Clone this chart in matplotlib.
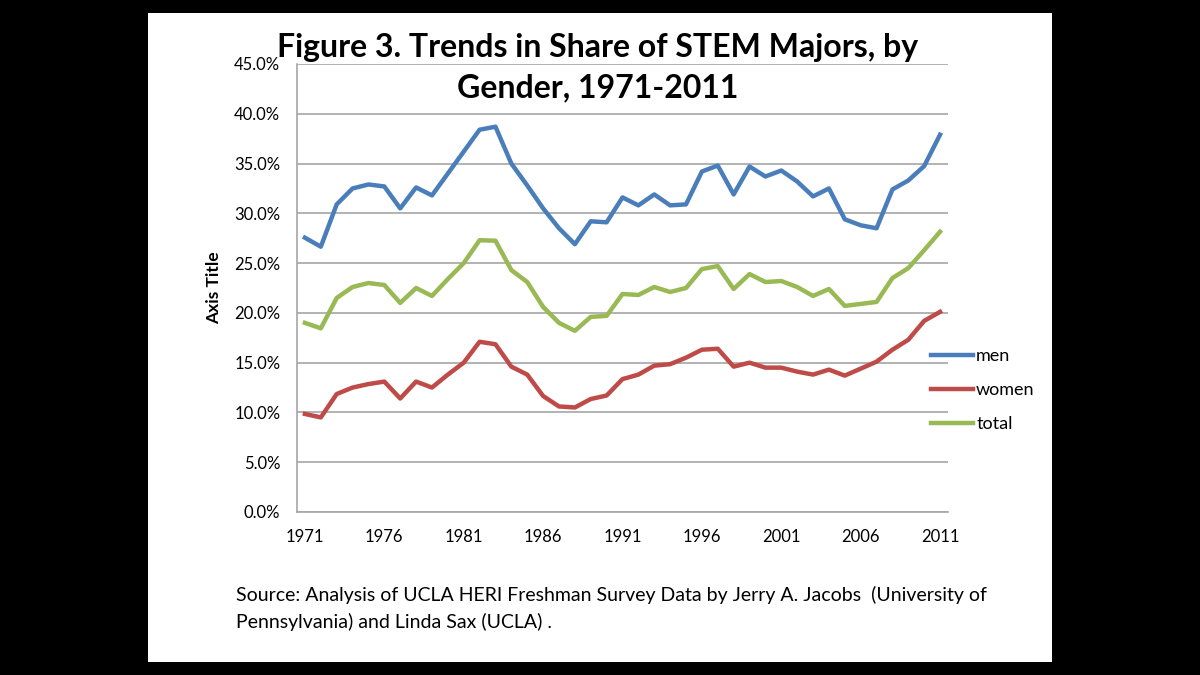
import matplotlib
matplotlib.use("Agg")
import matplotlib.pyplot as plt
from matplotlib.patches import Rectangle
from matplotlib.ticker import FuncFormatter, MultipleLocator

years = list(range(1971, 2012))
men = [27.55, 26.65, 30.9, 32.5, 32.9, 32.7, 30.5, 32.6, 31.8, 34.0,
       36.2, 38.4, 38.7, 35.0, 32.8, 30.5, 28.5, 26.9, 29.2, 29.1,
       31.6, 30.8, 31.9, 30.8, 30.9, 34.2, 34.8, 31.9, 34.7, 33.7,
       34.3, 33.2, 31.7, 32.5, 29.4, 28.8, 28.5, 32.4, 33.3, 34.75, 37.9]
women = [9.85, 9.5, 11.85, 12.5, 12.85, 13.1, 11.4, 13.1, 12.5, 13.8,
         15.0, 17.1, 16.85, 14.6, 13.8, 11.65, 10.6, 10.5, 11.35, 11.7,
         13.35, 13.8, 14.7, 14.85, 15.5, 16.3, 16.4, 14.6, 15.0, 14.5,
         14.5, 14.1, 13.8, 14.3, 13.7, 14.4, 15.1, 16.3, 17.3, 19.2, 20.1]
total = [19.0, 18.45, 21.5, 22.6, 23.0, 22.8, 21.0, 22.5, 21.7, 23.4,
         25.0, 27.3, 27.25, 24.3, 23.1, 20.6, 19.0, 18.2, 19.6, 19.7,
         21.9, 21.8, 22.6, 22.1, 22.5, 24.4, 24.7, 22.4, 23.9, 23.1,
         23.2, 22.6, 21.7, 22.4, 20.7, 20.9, 21.1, 23.5, 24.5, 26.3, 28.15]
xtick_years = list(range(1971, 2012, 5))

plt.rcParams['font.family'] = ['Lato', 'DejaVu Sans']

fig = plt.figure(figsize=(12, 6.75), dpi=100)
fig.patch.set_facecolor('black')
fig.patches.append(Rectangle((148/1200, 1 - 662/675), (1052-148)/1200, (662-13)/675,
                             transform=fig.transFigure, facecolor='white',
                             edgecolor='none', zorder=-10))

ax = fig.add_axes([297/1200, 1 - 512/675, (948-297)/1200, (512-64)/675])
ax.set_zorder(1)
ax.set_facecolor('white')
lw = 3.2
ax.plot(years, men, color='#4A7EBB', lw=lw, label='men', solid_joinstyle='round')
ax.plot(years, women, color='#BE4B48', lw=lw, label='women', solid_joinstyle='round')
ax.plot(years, total, color='#98B954', lw=lw, label='total', solid_joinstyle='round')

ax.set_xlim(1970.5, 2011.5)
ax.set_ylim(0, 45)
ax.yaxis.set_major_locator(MultipleLocator(5))
ax.yaxis.set_major_formatter(FuncFormatter(lambda v, p: f"{v:.1f}%"))
ax.set_xticks(xtick_years)
ax.set_xticklabels([str(y) for y in xtick_years])
ax.grid(axis='y', color='#A6A6A6', lw=1.2)
ax.set_axisbelow(True)
for s in ['top', 'right']:
    ax.spines[s].set_visible(False)
for s in ['left', 'bottom']:
    ax.spines[s].set_color('#A6A6A6')
    ax.spines[s].set_linewidth(1.2)
ax.tick_params(axis='both', length=0, labelsize=12, colors='black')
ax.tick_params(axis='y', pad=12)
ax.tick_params(axis='x', pad=12)
ax.set_ylabel('Axis Title', fontsize=12.5, fontweight='bold', labelpad=9)

leg = fig.legend(loc='center left', bbox_to_anchor=(931/1200, 1 - 390/675),
                 bbox_transform=fig.transFigure, frameon=False,
                 fontsize=13, handlelength=2.3, handletextpad=0.2,
                 labelspacing=1.0, borderpad=0, borderaxespad=0)

fig.text(598/1200, 1 - 47/675, 'Figure 3. Trends in Share of STEM Majors, by',
         ha='center', va='center', fontsize=23, fontweight='bold', zorder=5)
fig.text(598/1200, 1 - 88/675, 'Gender, 1971-2011',
         ha='center', va='center', fontsize=23, fontweight='bold', zorder=5)
fig.text(236/1200, 1 - 595/675,
         'Source: Analysis of UCLA HERI Freshman Survey Data by Jerry A. Jacobs  (University of',
         ha='left', va='center', fontsize=14)
fig.text(236/1200, 1 - 622/675,
         'Pennsylvania) and Linda Sax (UCLA) .',
         ha='left', va='center', fontsize=14)

fig.savefig('out.png', dpi=100, facecolor=fig.get_facecolor())
